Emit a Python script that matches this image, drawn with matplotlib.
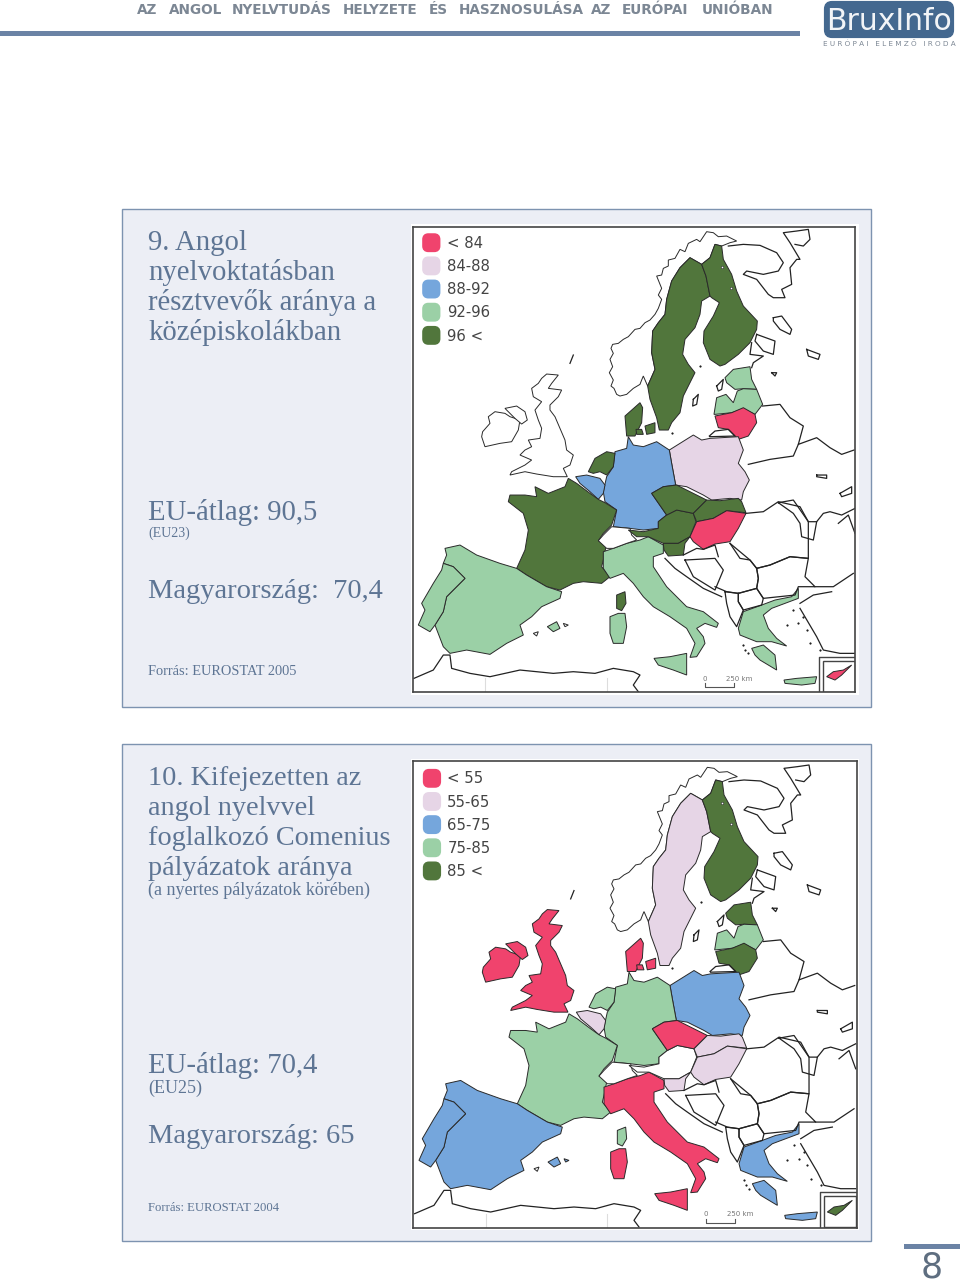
import matplotlib
matplotlib.use('Agg')
import matplotlib.pyplot as plt
from matplotlib.patches import Rectangle, FancyBboxPatch, Polygon

# classes: 0..4 = pink, lilac, blue, green, dark green, None = no data
class_colors = ['#F0436D', '#E6D5E6', '#75A6DC', '#9BD0A6', '#51763C']
legend1 = ['< 84', '84-88', '88-92', '92-96', '96 <']
legend2 = ['< 55', '55-65', '65-75', '75-85', '85 <']

countries = ['norway', 'sweden', 'finland', 'estonia', 'latvia', 'lithuania', 'poland', 'germany',
             'netherlands', 'belgium', 'france', 'spain', 'portugal', 'italy', 'sicily', 'sardinia',
             'corsica', 'switzerland', 'austria', 'czech', 'slovakia', 'hungary', 'slovenia',
             'greece', 'peloponnese', 'crete', 'cyprus', 'ireland', 'nireland', 'britain',
             'jutland', 'zealand', 'funen', 'mallorca', 'menorca', 'ibiza']
classes1 = [None, 4, 4, 3, 3, 0, 1, 2, 4, 2, 4, 3, 3, 3, 3, 3, 4, None, 4, 4, 4, 0, 4, 3, 3, 3, 0,
            None, None, None, 4, 4, 4, 3, None, None]
classes2 = [None, 1, 4, 4, 3, 4, 2, 3, 3, 1, 3, 2, 2, 0, 0, 0, 3, None, None, 0, 1, 1, 1, 2, 2, 2, 4,
            0, 0, 0, 0, 0, 0, 2, 2, None]

# outlines, same coordinates for both maps
shapes = {
    'norway': [(700, 468), (695, 480), (690, 493), (670, 505), (650, 523), (630, 528), (620, 523), (612, 505),
               (603, 498), (610, 480), (598, 458), (608, 440), (600, 418), (610, 400), (603, 385), (608, 373),
               (625, 370), (640, 358), (655, 350), (675, 328), (690, 325), (705, 308), (720, 300), (735, 283),
               (745, 265), (755, 238), (745, 225), (755, 205), (740, 168), (755, 165), (760, 145), (775, 138),
               (775, 120), (795, 115), (810, 88), (825, 95), (835, 70), (860, 58), (870, 65), (890, 35), (910, 38),
               (925, 50), (950, 48), (980, 63), (960, 68), (935, 78), (915, 73), (900, 113), (875, 133), (840, 113),
               (810, 143), (785, 183), (770, 238), (765, 283), (745, 308), (728, 333), (725, 398), (735, 448),
               (713, 498)],
    'sweden': [(840, 113), (875, 133), (888, 168), (900, 228), (875, 243), (870, 283), (855, 323), (825, 358),
               (818, 403), (835, 433), (855, 458), (840, 488), (820, 528), (810, 578), (785, 608), (775, 630),
               (748, 630), (740, 593), (720, 538), (713, 498), (735, 448), (725, 398), (728, 333), (745, 308),
               (765, 283), (770, 238), (785, 183), (810, 143)],
    'finland': [(915, 73), (935, 78), (940, 118), (965, 163), (980, 213), (1000, 258), (1042, 303), (1040, 328),
                (1020, 368), (985, 403), (945, 433), (930, 438), (900, 418), (880, 368), (882, 333), (910, 288),
                (928, 248), (905, 233), (900, 228), (888, 168), (875, 133), (900, 113)],
    'estonia': [(945, 473), (970, 448), (1020, 440), (1025, 478), (1040, 508), (1000, 506), (975, 508), (950, 488)],
    'latvia': [(912, 583), (920, 533), (948, 523), (970, 548), (982, 513), (1000, 506), (1040, 508), (1058, 553),
               (1035, 583), (1000, 566), (965, 578), (915, 583)],
    'lithuania': [(915, 588), (965, 578), (1000, 563), (1035, 583), (1040, 608), (1015, 648), (985, 658), (955, 628),
                  (925, 623)],
    'poland': [(778, 690), (810, 670), (850, 645), (875, 660), (900, 655), (985, 650), (1000, 690), (985, 730),
               (1005, 755), (1018, 780), (1000, 815), (995, 840), (960, 835), (905, 840), (880, 825), (830, 800),
               (797, 795), (785, 730)],
    'germany': [(655, 650), (670, 675), (700, 680), (740, 665), (778, 690), (785, 730), (797, 795), (760, 800),
                (725, 820), (770, 885), (745, 905), (745, 925), (700, 930), (660, 925), (610, 920), (620, 870),
                (585, 845), (580, 815), (590, 770), (610, 740), (615, 695), (650, 685)],
    'netherlands': [(535, 755), (555, 715), (590, 695), (615, 700), (610, 740), (590, 765), (570, 755), (550, 760)],
    'belgium': [(497, 770), (530, 765), (570, 775), (585, 795), (580, 820), (565, 838), (540, 815), (510, 790)],
    'france': [(475, 775), (500, 790), (540, 820), (565, 838), (585, 848), (620, 870), (605, 915), (580, 940),
               (565, 962), (590, 970), (580, 1020), (575, 1040), (600, 1070), (575, 1090), (520, 1085), (490, 1090),
               (450, 1110), (410, 1100), (350, 1065), (320, 1045), (345, 990), (355, 930), (340, 880), (295, 845),
               (300, 825), (345, 825), (380, 830), (375, 800), (415, 820), (465, 800)],
    'spain': [(105, 985), (150, 975), (200, 1005), (270, 1030), (320, 1045), (350, 1065), (410, 1100), (455, 1115),
              (450, 1135), (395, 1160), (365, 1190), (330, 1215), (340, 1245), (290, 1270), (240, 1303), (170, 1290),
              (120, 1300), (100, 1280), (75, 1215), (100, 1175), (110, 1130), (165, 1075), (130, 1040), (100, 1030),
              (110, 1005)],
    'portugal': [(100, 1030), (130, 1040), (165, 1075), (110, 1130), (100, 1175), (75, 1215), (60, 1235), (25, 1215),
                 (45, 1170), (35, 1150), (70, 1090), (95, 1050)],
    'italy': [(580, 995), (610, 985), (650, 970), (690, 960), (715, 950), (760, 975), (760, 1000), (730, 1010),
              (730, 1040), (770, 1100), (830, 1160), (880, 1175), (925, 1210), (920, 1222), (885, 1210), (860, 1225),
              (880, 1250), (885, 1270), (860, 1310), (840, 1312), (855, 1270), (830, 1225), (780, 1190), (730, 1160),
              (700, 1130), (670, 1090), (640, 1060), (600, 1075), (580, 1045)],
    'sicily': [(732, 1315), (780, 1310), (830, 1300), (830, 1365), (790, 1350), (745, 1335)],
    'sardinia': [(600, 1190), (625, 1180), (645, 1180), (650, 1220), (640, 1270), (610, 1270), (600, 1240)],
    'corsica': [(620, 1125), (645, 1115), (648, 1150), (635, 1172), (620, 1165)],
    'switzerland': [(565, 962), (580, 945), (605, 920), (660, 925), (665, 945), (680, 960), (650, 970), (610, 985),
                    (590, 985)],
    'austria': [(655, 930), (700, 935), (745, 925), (745, 905), (770, 885), (800, 870), (850, 880), (858, 905),
                (840, 950), (805, 970), (760, 970), (715, 950), (680, 950)],
    'czech': [(725, 820), (760, 800), (800, 795), (840, 815), (890, 840), (850, 880), (800, 870), (770, 885)],
    'slovakia': [(850, 880), (890, 840), (930, 842), (985, 835), (995, 845), (1008, 878), (950, 872), (910, 895),
                 (860, 905)],
    'hungary': [(840, 950), (860, 905), (910, 895), (950, 872), (1008, 880), (985, 925), (960, 965), (915, 972),
                (880, 988), (850, 965)],
    'slovenia': [(760, 970), (805, 970), (840, 950), (825, 970), (820, 1005), (775, 1008), (762, 990)],
    'greece': [(985, 1225), (1000, 1175), (1055, 1155), (1095, 1140), (1145, 1130), (1165, 1105), (1165, 1135),
               (1125, 1150), (1085, 1165), (1060, 1185), (1075, 1225), (1100, 1255), (1130, 1278), (1085, 1265),
               (1040, 1265), (990, 1245)],
    'peloponnese': [(1025, 1285), (1060, 1275), (1095, 1305), (1100, 1350), (1075, 1335), (1050, 1320), (1035, 1305)],
    'crete': [(1122, 1380), (1160, 1375), (1220, 1370), (1215, 1390), (1175, 1395), (1125, 1390)],
    'cyprus': [(1250, 1370), (1270, 1355), (1300, 1350), (1325, 1335), (1295, 1365), (1275, 1380)],
    'ireland': [(215, 650), (218, 635), (240, 610), (235, 590), (255, 575), (285, 580), (300, 590), (330, 600),
                (325, 630), (305, 665), (270, 670), (225, 680)],
    'nireland': [(285, 565), (320, 558), (345, 575), (352, 600), (335, 612), (315, 595), (300, 580)],
    'britain': [(395, 475), (410, 462), (445, 465), (425, 490), (415, 505), (455, 510), (445, 530), (420, 555),
                (420, 570), (435, 590), (450, 625), (465, 660), (470, 690), (490, 705), (480, 735), (460, 745),
                (472, 770), (430, 770), (380, 762), (345, 755), (300, 765), (305, 755), (345, 735), (365, 720),
                (330, 705), (345, 690), (365, 680), (355, 660), (390, 655), (395, 625), (385, 600), (375, 570),
                (395, 545), (370, 530), (365, 505), (385, 490)],
    'jutland': [(645, 588), (690, 548), (698, 563), (695, 608), (675, 648), (650, 648)],
    'zealand': [(705, 618), (735, 608), (735, 638), (710, 643)],
    'funen': [(678, 628), (695, 628), (700, 643), (680, 643)],
    'mallorca': [(412, 1220), (440, 1205), (450, 1225), (430, 1235)],
    'menorca': [(460, 1210), (475, 1215), (465, 1220)],
    'ibiza': [(370, 1240), (385, 1235), (380, 1248)],
}

# neighbours and coasts that carry no data
outlines = [
    [(955, 78), (1000, 73), (1050, 76), (1100, 98), (1120, 128), (1105, 153), (1060, 163), (1010, 153), (1000, 163),
     (1040, 178), (1075, 223), (1090, 233), (1125, 233), (1115, 208), (1145, 193), (1140, 143), (1160, 118),
     (1170, 118), (1140, 68), (1120, 38), (1160, 33), (1195, 28), (1200, 58), (1180, 78), (1155, 73)],
    [(1090, 293), (1115, 288), (1145, 328), (1140, 343), (1110, 328), (1090, 303), (1090, 293)],
    [(1040, 343), (1095, 363), (1090, 403), (1060, 393), (1035, 363), (1040, 343)],
    [(1190, 388), (1230, 403), (1225, 418), (1195, 408), (1190, 388)],
    [(1085, 458), (1100, 458), (1095, 468), (1085, 458)],
    [(1025, 368), (1020, 403), (1060, 408), (1030, 428), (1025, 443)],
    [(850, 538), (865, 523), (860, 553), (848, 558), (850, 538)],
    [(920, 498), (940, 478), (935, 508), (925, 513), (920, 498)],
    [(898, 648), (915, 633), (955, 628), (975, 648), (900, 650)],
    [(1058, 558), (1110, 553), (1140, 593), (1180, 618), (1165, 673), (1220, 653), (1260, 683), (1295, 703), (1332, 690)],
    [(1015, 733), (1080, 718), (1150, 708), (1165, 673)],
    [(1008, 880), (1060, 875), (1105, 845), (1170, 860), (1195, 905), (1195, 1015), (1140, 1010), (1080, 1035),
     (1040, 1045), (1020, 1020), (990, 1015), (960, 970)],
    [(1105, 848), (1150, 840), (1195, 905), (1220, 905), (1210, 960), (1175, 950), (1170, 910), (1150, 880), (1105, 848)],
    [(1220, 905), (1240, 880), (1260, 875), (1295, 885), (1335, 865)],
    [(1290, 820), (1325, 800), (1325, 820), (1295, 830), (1290, 820)],
    [(1285, 910), (1315, 885), (1335, 940)],
    [(1220, 765), (1250, 765), (1250, 775), (1220, 770), (1220, 765)],
    [(1040, 1045), (1080, 1035), (1140, 1010), (1195, 1015), (1185, 1070), (1215, 1100), (1165, 1100), (1155, 1125),
     (1060, 1135), (1040, 1105), (1045, 1075), (1040, 1045)],
    [(825, 1020), (915, 1015), (940, 1050), (915, 1110), (850, 1070), (825, 1020)],
    [(820, 1005), (860, 985), (880, 988), (915, 975), (925, 1010)],
    [(765, 1015), (795, 1045), (830, 1070), (880, 1105), (935, 1130)],
    [(960, 970), (1020, 1020), (1040, 1045), (1045, 1075), (1040, 1105), (985, 1120), (950, 1115), (915, 1100)],
    [(985, 1120), (1040, 1105), (1060, 1135), (1055, 1155), (1000, 1170), (985, 1145), (985, 1120)],
    [(945, 1115), (985, 1120), (985, 1145), (1000, 1170), (980, 1220), (960, 1190), (950, 1150), (945, 1115)],
    [(1215, 1100), (1270, 1100), (1330, 1060)],
    [(1170, 1150), (1210, 1125), (1265, 1115)],
    [(1170, 1165), (1220, 1250), (1240, 1290), (1290, 1300), (1335, 1300)],
    [(490, 405), (480, 430)],
    [(12, 1375), (70, 1350), (100, 1305), (120, 1305), (125, 1345), (180, 1360), (240, 1370), (330, 1350), (430, 1360),
     (490, 1355), (555, 1360), (610, 1345), (670, 1355), (690, 1365), (670, 1395), (685, 1415)],
]
isles_x = [1150, 1165, 1190, 1200, 1230, 1005, 1015, 1130, 1180, 1000, 785, 870]
isles_y = [1170, 1210, 1230, 1270, 1290, 1290, 1300, 1215, 1190, 1275, 638, 438]
lakes_x = [935, 962]
lakes_y = [142, 205]


def draw_map(rect, xlim, ylim, classes, legend_labels):
    ax = fig.add_axes(rect)
    ax.set_xlim(*xlim)
    ax.set_ylim(*ylim)
    ax.set_xticks([])
    ax.set_yticks([])
    for s in ax.spines.values():
        s.set_linewidth(1.2)
        s.set_color('#444444')
    for name, cl in zip(countries, classes):
        color = 'white' if cl is None else class_colors[cl]
        ax.add_patch(Polygon(shapes[name], closed=True, facecolor=color, edgecolor='#2a2a2a', linewidth=0.7))
    for line in outlines:
        ax.plot([p[0] for p in line], [p[1] for p in line], color='#222222', lw=0.9)
    ax.plot(isles_x, isles_y, ls='none', marker='o', ms=1.2, mfc='#222222', mec='#222222', mew=0.3)
    ax.plot(lakes_x, lakes_y, ls='none', marker='o', ms=1.8, mfc='white', mec='#222222', mew=0.4)
    for x in [225, 590]:
        ax.plot([x, x], [1375, 1415], color='#dddddd', lw=0.8)
    # legend
    for i, lab in enumerate(legend_labels):
        y = 68 + i * 69.5
        ax.add_patch(FancyBboxPatch((45, y - 20), 38, 40, boxstyle='round,pad=0,rounding_size=10',
                                    facecolor=class_colors[i], edgecolor=class_colors[i], lw=4))
        ax.text(110, y + 2, lab, fontsize=10.7, color='#444444', va='center', family='DejaVu Sans')
    # scale bar and cyprus box
    ax.plot([885, 885, 972, 972], [1390, 1402, 1402, 1390], color='#555555', lw=0.8)
    ax.text(885, 1377, '0', fontsize=5, color='#777777', ha='center', va='center')
    ax.text(988, 1377, '250 km', fontsize=5, color='#777777', ha='center', va='center')
    ax.plot([1228, 1228, 1335], [1415, 1310, 1310], color='#444444', lw=1)
    ax.add_patch(Rectangle((1240, 1322), 95, 93, facecolor='none', edgecolor='#444444', lw=1))
    return ax


fig = plt.figure(figsize=(9.6, 12.85), dpi=100)
bg = fig.add_axes([0, 0, 1, 1])
bg.set_xlim(0, 960)
bg.set_ylim(1285, 0)
bg.axis('off')

W, H = 960, 1285
blue_line = '#6B83A5'
text_col = '#5E7594'

# header
header_words = ['AZ', 'ANGOL', 'NYELVTUDÁS', 'HELYZETE', 'ÉS', 'HASZNOSULÁSA', 'AZ', 'EURÓPAI', 'UNIÓBAN']
header_x = [137, 169, 232, 343, 429, 459, 591, 622, 702]
for word, x in zip(header_words, header_x):
    bg.text(x, 10, word, fontsize=9.8, fontweight='bold', color='#7C8794', va='center', family='DejaVu Sans')
bg.add_patch(Rectangle((0, 31), 800, 5, facecolor=blue_line, edgecolor='none'))

# logo
bg.add_patch(FancyBboxPatch((826, 3), 126, 33, boxstyle='round,pad=0,rounding_size=6',
                            facecolor='#44688F', edgecolor='#44688F', lw=3))
bg.text(889, 21, 'BruxInfo', fontsize=21.5, color='#F2F4F7', ha='center', va='center', family='DejaVu Sans')
bg.text(889, 44, 'E U R Ó P A I   E L E M Z Ő   I R O D A', fontsize=5.2, color='#7C8794', ha='center', va='center')

# panels
for top, bottom in [(209, 707), (744, 1241)]:
    bg.add_patch(Rectangle((122, top), 749, bottom - top, facecolor='#ECEEF5', edgecolor='#7D93B0', lw=1))
bg.add_patch(Rectangle((411, 224), 448, 471, facecolor='white', edgecolor='none'))
bg.add_patch(Rectangle((411, 759), 448, 471, facecolor='white', edgecolor='none'))


def serif(x, y, s, size):
    bg.text(x, y, s, fontsize=size, color=text_col, va='baseline', family='Liberation Serif')


for i, s in enumerate(['9. Angol', 'nyelvoktatásban', 'résztvevők aránya a', 'középiskolákban']):
    serif(148, 250 + i * 30, s, 20.7)
serif(148, 520, 'EU-átlag: 90,5', 20.7)
serif(148, 537, '(EU23)', 10)
serif(148, 598, 'Magyarország:  70,4', 20.5)
serif(148, 675, 'Forrás: EUROSTAT 2005', 10.4)

for i, s in enumerate(['10. Kifejezetten az', 'angol nyelvvel', 'foglalkozó Comenius', 'pályázatok aránya']):
    serif(148, 785 + i * 30, s, 20.3)
serif(148, 895, '(a nyertes pályázatok körében)', 13)
serif(148, 1073, 'EU-átlag: 70,4', 20.7)
serif(148, 1093, '(EU25)', 13)
serif(148, 1143, 'Magyarország: 65', 20.5)
serif(148, 1211, 'Forrás: EUROSTAT 2004', 9.1)

# page number
bg.add_patch(Rectangle((904, 1244), 56, 5, facecolor=blue_line, edgecolor='none'))
bg.text(932, 1268, '8', fontsize=25, color='#5E6E80', ha='center', va='center', family='DejaVu Sans')

draw_map([413.3 / W, 1 - 691.7 / H, (855 - 413.3) / W, 465 / H], (10, 1335), (1415, 20), classes1, legend1)
draw_map([413.3 / W, 1 - 1228 / H, (856.7 - 413.3) / W, 467 / H], (8, 1338), (1418, 16), classes2, legend2)

fig.savefig('out.png', dpi=100)
